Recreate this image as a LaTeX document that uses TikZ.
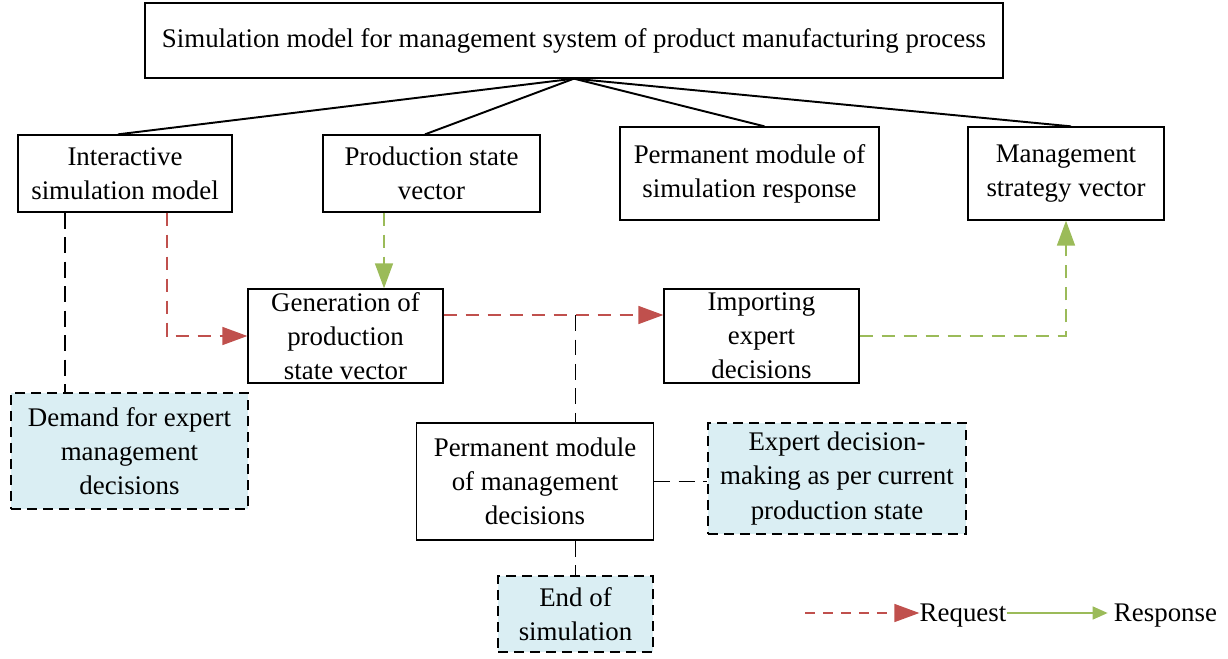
\documentclass[tikz,border=0pt]{standalone}
\usepackage{fontspec}
\setmainfont{Liberation Serif}
\usetikzlibrary{arrows.meta, positioning, calc}

\definecolor{reqred}{HTML}{C0504D}
\definecolor{resgreen}{HTML}{9BBB59}
\definecolor{expertfill}{HTML}{DAEEF3}

\begin{document}
\begin{tikzpicture}[x=0.02cm, y=-0.02cm,
		every node/.style={font=\fontsize{15.3}{19.4}\selectfont},
		block/.style={rectangle, draw, line width=0.75pt, align=center, inner sep=0pt},
		expert/.style={block, fill=expertfill, dash pattern=on 0.2cm off 0.12cm},
		branch/.style={line width=1.1pt},
		link/.style={line width=0.85pt, dash pattern=on 0.32cm off 0.17cm},
		request/.style={draw=reqred, line width=0.9pt, dash pattern=on 0.27cm off 0.17cm, -{Triangle[length=0.5cm, width=0.36cm, fill=reqred]}},
		response/.style={draw=resgreen, line width=0.9pt, dash pattern=on 0.27cm off 0.17cm, -{Triangle[length=0.5cm, width=0.36cm, fill=resgreen]}}
	]
	\useasboundingbox (0,0) rectangle (1228,659);
	
	\node[block, minimum width=17.16cm, minimum height=1.5cm] (model) at (574,40.5) {Simulation model for management system of product manufacturing process};
	
	\node[block, minimum width=4.28cm, minimum height=1.54cm] (ism) at (125,173.5) {Interactive\\simulation model};
	\node[block, minimum width=4.34cm, minimum height=1.54cm] (psv) at (431.5,173.5) {Production state\\vector};
	\node[block, minimum width=5.18cm, minimum height=1.86cm] (pmsr) at (749.5,173.5) {Permanent module of\\simulation response};
	\node[block, minimum width=3.92cm, minimum height=1.86cm] (msv) at (1066,173.5) {Management\\strategy vector};
	
	\node[block, minimum width=3.9cm, minimum height=1.88cm] (gen) at (345.5,336) {Generation of\\production\\state vector};
	\node[block, minimum width=3.9cm, minimum height=1.88cm] (imp) at (761.5,336) {Importing\\expert\\decisions};
	
	\node[expert, minimum width=4.74cm, minimum height=2.32cm] (demand) at (129.5,451) {Demand for expert\\management\\decisions};
	\node[block, minimum width=4.74cm, minimum height=2.34cm] (pmmd) at (535,481.5) {Permanent module\\of management\\decisions};
	\node[expert, minimum width=5.16cm, minimum height=2.22cm] (making) at (837,478.5) {Expert decision-\\making as per current\\production state};
	\node[expert, minimum width=3.1cm, minimum height=1.52cm] (stop) at (575.5,614) {End of\\simulation};
	
	\draw[branch] (model.south) -- ([xshift=-0.14cm]ism.north);
	\draw[branch] (model.south) -- ([xshift=-0.13cm]psv.north);
	\draw[branch] (model.south) -- ([xshift=0.3cm]pmsr.north);
	\draw[branch] (model.south) -- ([xshift=0.1cm]msv.north);
	
	\draw[request] ([xshift=0.84cm]ism.south) |- (gen.west);
	\draw[response] ([xshift=-0.95cm]psv.south) coordinate (g1) -- (g1 |- gen.north);
	\coordinate (out) at ([yshift=0.42cm]gen.east);
	\coordinate (in) at ([yshift=0.42cm]imp.west);
	\draw[request] (out) -- (in);
	\draw[response] (imp.east) -| (msv.south);
	
	\draw[link] ([xshift=-1.2cm]ism.south) coordinate (d1) -- (d1 |- demand.north);
	\draw[link] (stop.north |- in) -- (stop.north |- pmmd.north);
	\draw[link] (pmmd.east) -- (pmmd.east -| making.west);
	\draw[link] (stop.north |- pmmd.south) -- (stop.north);
	
	\coordinate (key) at (805,613);
	\node[inner sep=0pt] (reqtext) at (963,616) {Request};
	\node[inner sep=0pt] (restext) at (1165.5,616) {Response};
	\draw[request, dash pattern=on 0.2cm off 0.16cm] (key) -- (key -| reqtext.west);
	\draw[draw=resgreen, line width=0.9pt, shorten >=0.12cm, -{Triangle[length=0.3cm, width=0.26cm, fill=resgreen]}] (reqtext.east |- key) -- (key -| restext.west);
\end{tikzpicture}
\end{document}
